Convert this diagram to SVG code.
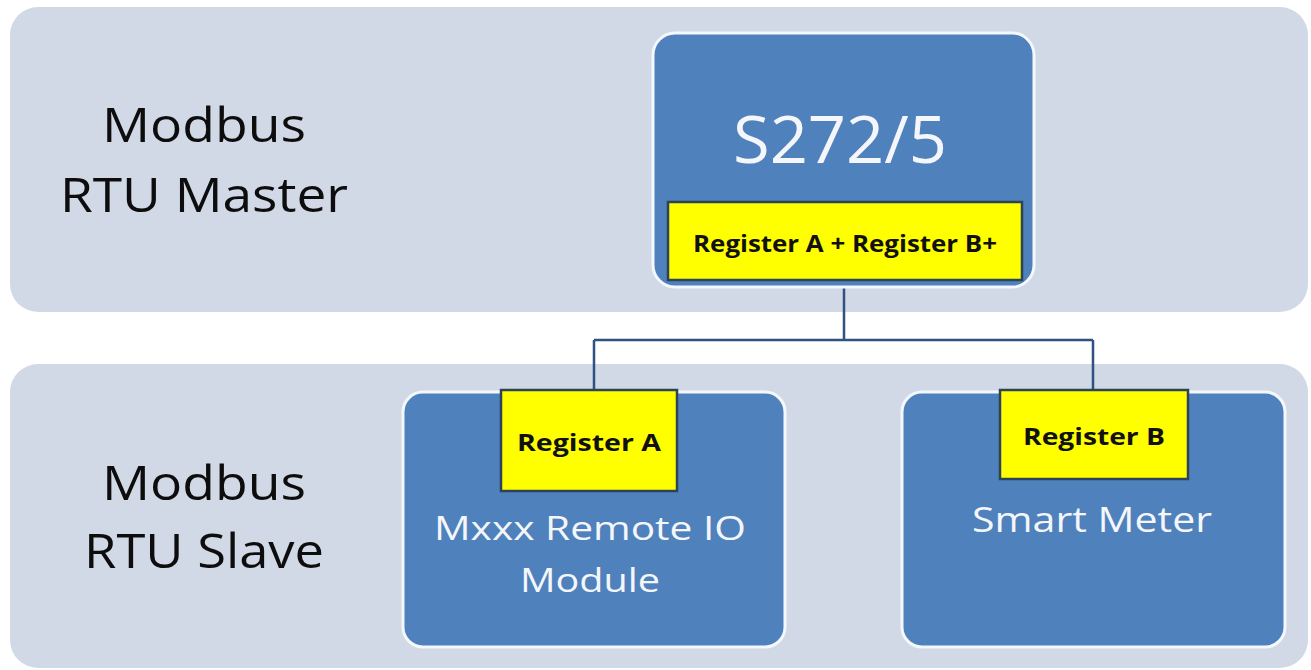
<svg xmlns="http://www.w3.org/2000/svg" width="1311" height="670" viewBox="0 0 1311 670">
<style>
.band{fill:#d2d9e6}
.box{fill:#4f81bd;stroke:#f4f7fb;stroke-width:3}
.reg{fill:#ffff00;stroke:#2f4358;stroke-width:2.5}
.lbl{font-family:"Open Sans","Liberation Sans",sans-serif;font-size:48px;fill:#0d0d0d;text-anchor:middle}
.wt{font-family:"Open Sans","Liberation Sans",sans-serif;fill:#f4f6fa;text-anchor:middle}
.rt{font-family:"Open Sans","Liberation Sans",sans-serif;font-weight:bold;font-size:24px;fill:#111;text-anchor:middle}
.conn{fill:none;stroke:#2f5283;stroke-width:2.5}
</style>
<rect width="1311" height="670" fill="#ffffff"/>
<g id="band-master">
<rect class="band" x="10" y="7" width="1298" height="305" rx="28"/>
<text class="lbl" x="204" y="142" textLength="204" lengthAdjust="spacingAndGlyphs">Modbus</text>
<text class="lbl" x="204" y="212" textLength="288" lengthAdjust="spacingAndGlyphs">RTU Master</text>
</g>
<g id="band-slave">
<rect class="band" x="10" y="364" width="1298" height="304" rx="28"/>
<text class="lbl" x="204" y="500" textLength="204" lengthAdjust="spacingAndGlyphs">Modbus</text>
<text class="lbl" x="204" y="568" textLength="240" lengthAdjust="spacingAndGlyphs">RTU Slave</text>
</g>
<g id="connectors">
<path class="conn" d="M844 287 V340 M594 340 H1093 M594 340 V390 M1093 340 V390"/>
</g>
<g id="node-s272">
<rect class="box" x="653" y="33" width="381" height="254" rx="22"/>
<text class="wt" x="840" y="163" font-size="66" font-weight="500" textLength="214" lengthAdjust="spacingAndGlyphs">S272/5</text>
<rect class="reg" x="668" y="202" width="354" height="78"/>
<text class="rt" x="845" y="252" textLength="304" lengthAdjust="spacingAndGlyphs">Register A + Register B+</text>
</g>
<g id="node-mxxx">
<rect class="box" x="403" y="392" width="382" height="255" rx="20"/>
<rect class="reg" x="501" y="390" width="176" height="101"/>
<text class="rt" x="589" y="451" textLength="144" lengthAdjust="spacingAndGlyphs">Register A</text>
<text class="wt" x="590" y="540" font-size="33" textLength="312" lengthAdjust="spacingAndGlyphs">Mxxx Remote IO</text>
<text class="wt" x="590" y="592" font-size="33" textLength="140" lengthAdjust="spacingAndGlyphs">Module</text>
</g>
<g id="node-meter">
<rect class="box" x="902" y="392" width="383" height="255" rx="20"/>
<rect class="reg" x="1000" y="390" width="188" height="89"/>
<text class="rt" x="1094" y="445" textLength="142" lengthAdjust="spacingAndGlyphs">Register B</text>
<text class="wt" x="1092" y="532" font-size="35" textLength="240" lengthAdjust="spacingAndGlyphs">Smart Meter</text>
</g>
</svg>
